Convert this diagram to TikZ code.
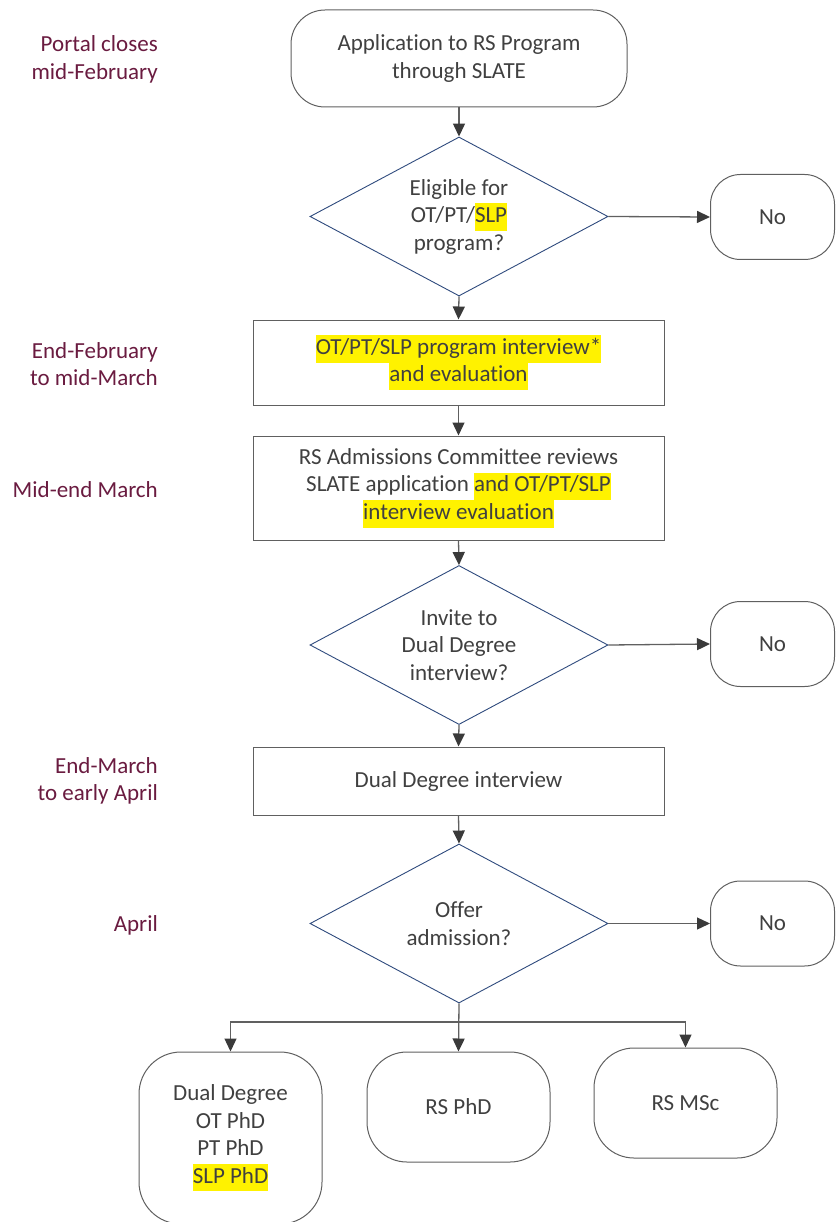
\documentclass[tikz,border=0pt]{standalone}
\usepackage{fontspec}
\setmainfont{Carlito}[Ligatures=NoCommon]
\usetikzlibrary{shapes.geometric,arrows.meta}
\definecolor{txtgray}{HTML}{404040}
\definecolor{linegray}{HTML}{606060}
\definecolor{tipgray}{HTML}{3A3A3A}
\definecolor{navy}{HTML}{2E4A7D}
\definecolor{datecol}{HTML}{6A1B40}
\newcommand{\yhl}[1]{{\setlength{\fboxsep}{0pt}\colorbox{yellow}{\strut #1}}}
\begin{document}
\begin{tikzpicture}[x=1pt,y=-1pt,
  every node/.style={font=\fontsize{23}{27.5}\selectfont,text=txtgray,align=center},
  term/.style={draw=linegray,line width=1pt,rounded corners=34pt,inner sep=0pt},
  procbox/.style={draw=linegray,line width=1pt,minimum width=411pt,inner sep=0pt},
  decide/.style={draw=navy,line width=0.9pt,diamond,aspect=1.87,minimum width=298pt,minimum height=159pt,inner sep=0pt},
  when/.style={text=datecol,anchor=east,align=right,inner sep=0pt},
  link/.style={draw=linegray,line width=1.3pt},
  arr/.style={link,-{Triangle[length=13pt,width=12pt,color=tipgray]}}]
\useasboundingbox (0,0) rectangle (836,1222);
% time line
\node[when] (t1) at (158,59.5) {Portal closes\\mid-February};
\node[when] (t2) at (158,364) {End-February\\to mid-March};
\node[when] (t3) at (158,490) {Mid-end March};
\node[when] (t4) at (158,781) {End-March\\to early April};
\node[when] (t5) at (158,925) {April};
% steps
\node[term,minimum width=336pt,minimum height=97pt] (apply) at (459,58.5) {Application to RS Program\\through SLATE};
\node[decide] (elig) at (459,216.5) {Eligible for\\OT/PT/\yhl{SLP}\\program?};
\node[term,rounded corners=30pt,minimum width=124pt,minimum height=85pt] (no1) at (772.5,217) {No};
\node[procbox,minimum height=85pt] (intv) at (458.5,362.5) {\yhl{OT/PT/SLP program interview*}\\\yhl{and evaluation}};
\node[procbox,minimum height=104pt] (review) at (458.5,488) {RS Admissions Committee reviews\\SLATE application \yhl{and OT/PT/SLP}\\\yhl{interview evaluation}};
\node[decide] (invite) at (459,645) {Invite to\\Dual Degree\\interview?};
\node[term,rounded corners=30pt,minimum width=124pt,minimum height=85pt] (no2) at (772.5,644) {No};
\node[procbox,minimum height=68pt] (ddint) at (458.5,781) {Dual Degree interview};
\node[decide] (offer) at (459,923.5) {Offer\\admission?};
\node[term,rounded corners=30pt,minimum width=124pt,minimum height=85pt] (no3) at (772.5,923.5) {No};
% outcomes
\node[term,rounded corners=42pt,minimum width=183pt,minimum height=172pt] (dual) at (230.5,1138) {Dual Degree\\OT PhD\\PT PhD\\\yhl{SLP PhD}};
\node[term,rounded corners=40pt,minimum width=183pt,minimum height=110pt] (rsphd) at (458.5,1107) {RS PhD};
\node[term,rounded corners=40pt,minimum width=183pt,minimum height=110pt] (rsmsc) at (685.5,1103) {RS MSc};
\coordinate (split) at (459,1022);
% arrows
\draw[arr] (apply.south) -- (elig.north);
\draw[arr] (elig.east) -- (no1.west);
\draw[arr] (elig.south) -- (intv.north);
\draw[arr] (intv.south) -- (review.north);
\draw[arr] (review.south) -- (invite.north);
\draw[arr] (invite.east) -- (no2.west);
\draw[arr] (invite.south) -- (ddint.north);
\draw[arr] (ddint.south) -- (offer.north);
\draw[arr] (offer.east) -- (no3.west);
\draw[arr] (offer.south) -- (rsphd.north);
\draw[arr] (split) -| (dual.north);
\draw[arr] (split) -| (rsmsc.north);
\end{tikzpicture}
\end{document}
